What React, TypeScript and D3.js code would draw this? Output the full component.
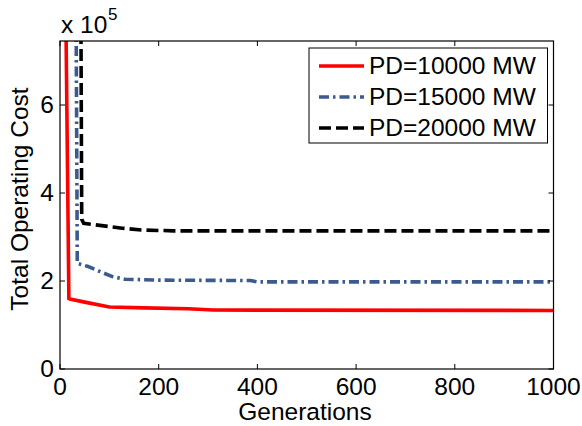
import React from "react";
import * as d3 from "d3";

const seriesNames = ["PD=10000 MW", "PD=15000 MW", "PD=20000 MW"];
const seriesColors = ["#ff0000", "#3b5a8e", "#000000"];
const seriesDash = ["none", "10 4 2.5 4", "12 5"];

const redGen = [10, 18, 20, 50, 90, 100, 170, 260, 310, 1000];
const redVal = [1.0e6, 1.6e5, 1.59e5, 1.52e5, 1.43e5, 1.41e5, 1.39e5, 1.37e5, 1.34e5, 1.33e5];
const blueGen = [31, 35, 57, 80, 106, 132, 200, 386, 400, 1000];
const blueVal = [1.2e6, 2.4e5, 2.33e5, 2.22e5, 2.1e5, 2.04e5, 2.02e5, 2.01e5, 1.98e5, 1.98e5];
const blackGen = [40, 44, 48, 126, 165, 230, 1000];
const blackVal = [1.5e6, 3.4e5, 3.31e5, 3.2e5, 3.16e5, 3.14e5, 3.14e5];

const xTicks = [0, 200, 400, 600, 800, 1000];
const yTicks = [0, 2e5, 4e5, 6e5];

const W = 582;
const H = 426;
const L = 60, R = 553.5, T = 41, B = 369;
const FONT = "'Liberation Sans', Arial, Helvetica, sans-serif";
const FS = 24.5;

export default function App() {
  const x = d3.scaleLinear().domain([0, 1000]).range([L, R]);
  const y = d3.scaleLinear().domain([0, 2e5]).range([B, B - 88]);
  const line = d3
    .line<[number, number]>()
    .x((d) => x(d[0]))
    .y((d) => y(d[1]));
  const data: [number, number][][] = [
    redGen.map((g, i) => [g, redVal[i]]),
    blueGen.map((g, i) => [g, blueVal[i]]),
    blackGen.map((g, i) => [g, blackVal[i]]),
  ];
  const legX = 309, legY = 48, legW = 238.5, legH = 95;
  return (
    <svg
      width={W}
      height={H}
      style={{ position: "absolute", left: 0, top: 0, background: "#fff" }}
      fontFamily={FONT}
    >
      <defs>
        <clipPath id="plotclip">
          <rect x={L} y={T} width={R - L} height={B - T} />
        </clipPath>
      </defs>
      <rect x={0} y={0} width={W} height={H} fill="#fff" />
      <g clipPath="url(#plotclip)">
        {data.map((d, i) => (
          <path
            key={i}
            d={line(d) || ""}
            fill="none"
            stroke={seriesColors[i]}
            strokeWidth={3.6}
            strokeDasharray={seriesDash[i]}
            strokeLinejoin="miter"
          />
        ))}
      </g>
      <rect x={L} y={T} width={R - L} height={B - T} fill="none" stroke="#000" strokeWidth={1.2} />
      {xTicks.map((t) => (
        <g key={"x" + t}>
          <line x1={x(t)} x2={x(t)} y1={B} y2={B - 5} stroke="#000" strokeWidth={1} />
          <line x1={x(t)} x2={x(t)} y1={T} y2={T + 5} stroke="#000" strokeWidth={1} />
          <text x={x(t)} y={395} textAnchor="middle" fontSize={FS} fill="#000">
            {t}
          </text>
        </g>
      ))}
      {yTicks.map((t) => (
        <g key={"y" + t}>
          <line x1={L} x2={L + 5} y1={y(t)} y2={y(t)} stroke="#000" strokeWidth={1} />
          <line x1={R} x2={R - 5} y1={y(t)} y2={y(t)} stroke="#000" strokeWidth={1} />
          <text x={54} y={y(t) + 8} textAnchor="end" fontSize={FS} fill="#000">
            {t / 1e5}
          </text>
        </g>
      ))}
      <text x={61} y={33} fontSize={FS} fill="#000">
        x 10
      </text>
      <text x={108} y={20} fontSize={17} fill="#000">
        5
      </text>
      <text x={305} y={420} textAnchor="middle" fontSize={FS} fill="#000">
        Generations
      </text>
      <text
        transform={`translate(28,199) rotate(-90)`}
        textAnchor="middle"
        fontSize={FS}
        fill="#000"
      >
        Total Operating Cost
      </text>
      <rect x={legX} y={legY} width={legW} height={legH} fill="#fff" stroke="#000" strokeWidth={1} />
      {seriesNames.map((n, i) => (
        <g key={n}>
          <line
            x1={319}
            x2={364}
            y1={66 + i * 31}
            y2={66 + i * 31}
            stroke={seriesColors[i]}
            strokeWidth={3.6}
            strokeDasharray={seriesDash[i]}
          />
          <text x={369} y={74 + i * 31} fontSize={FS} fill="#000">
            {n}
          </text>
        </g>
      ))}
    </svg>
  );
}
